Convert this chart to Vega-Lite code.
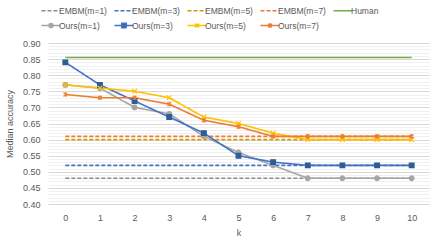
{
  "$schema": "https://vega.github.io/schema/vega-lite/v6.json",
  "width": 381,
  "height": 161,
  "autosize": {"type": "none"},
  "padding": {"left": 48, "top": 43, "right": 8, "bottom": 41},
  "background": "white",
  "config": {
    "view": {"stroke": null},
    "font": "Liberation Sans",
    "axis": {"labelFont": "Liberation Sans", "titleFont": "Liberation Sans", "labelColor": "#595959", "titleColor": "#595959", "labelFontSize": 9, "titleFontSize": 9, "titleFontWeight": "normal"},
    "legend": {"labelFont": "Liberation Sans", "labelColor": "#595959", "labelFontSize": 8.5}
  },
  "data": {
    "values": [
      {"k": 0, "acc": 0.48, "series": "EMBM(m=1)"},
      {"k": 10, "acc": 0.48, "series": "EMBM(m=1)"},
      {"k": 0, "acc": 0.52, "series": "EMBM(m=3)"},
      {"k": 10, "acc": 0.52, "series": "EMBM(m=3)"},
      {"k": 0, "acc": 0.60, "series": "EMBM(m=5)"},
      {"k": 10, "acc": 0.60, "series": "EMBM(m=5)"},
      {"k": 0, "acc": 0.61, "series": "EMBM(m=7)"},
      {"k": 10, "acc": 0.61, "series": "EMBM(m=7)"},
      {"k": 0, "acc": 0.855, "series": "Human"},
      {"k": 10, "acc": 0.855, "series": "Human"},
      {"k": 0, "acc": 0.77, "series": "Ours(m=1)"},
      {"k": 1, "acc": 0.76, "series": "Ours(m=1)"},
      {"k": 2, "acc": 0.70, "series": "Ours(m=1)"},
      {"k": 3, "acc": 0.68, "series": "Ours(m=1)"},
      {"k": 4, "acc": 0.61, "series": "Ours(m=1)"},
      {"k": 5, "acc": 0.56, "series": "Ours(m=1)"},
      {"k": 6, "acc": 0.52, "series": "Ours(m=1)"},
      {"k": 7, "acc": 0.48, "series": "Ours(m=1)"},
      {"k": 8, "acc": 0.48, "series": "Ours(m=1)"},
      {"k": 9, "acc": 0.48, "series": "Ours(m=1)"},
      {"k": 10, "acc": 0.48, "series": "Ours(m=1)"},
      {"k": 0, "acc": 0.84, "series": "Ours(m=3)"},
      {"k": 1, "acc": 0.77, "series": "Ours(m=3)"},
      {"k": 2, "acc": 0.72, "series": "Ours(m=3)"},
      {"k": 3, "acc": 0.67, "series": "Ours(m=3)"},
      {"k": 4, "acc": 0.62, "series": "Ours(m=3)"},
      {"k": 5, "acc": 0.55, "series": "Ours(m=3)"},
      {"k": 6, "acc": 0.53, "series": "Ours(m=3)"},
      {"k": 7, "acc": 0.52, "series": "Ours(m=3)"},
      {"k": 8, "acc": 0.52, "series": "Ours(m=3)"},
      {"k": 9, "acc": 0.52, "series": "Ours(m=3)"},
      {"k": 10, "acc": 0.52, "series": "Ours(m=3)"},
      {"k": 0, "acc": 0.77, "series": "Ours(m=5)"},
      {"k": 1, "acc": 0.76, "series": "Ours(m=5)"},
      {"k": 2, "acc": 0.75, "series": "Ours(m=5)"},
      {"k": 3, "acc": 0.73, "series": "Ours(m=5)"},
      {"k": 4, "acc": 0.67, "series": "Ours(m=5)"},
      {"k": 5, "acc": 0.65, "series": "Ours(m=5)"},
      {"k": 6, "acc": 0.62, "series": "Ours(m=5)"},
      {"k": 7, "acc": 0.60, "series": "Ours(m=5)"},
      {"k": 8, "acc": 0.60, "series": "Ours(m=5)"},
      {"k": 9, "acc": 0.60, "series": "Ours(m=5)"},
      {"k": 10, "acc": 0.60, "series": "Ours(m=5)"},
      {"k": 0, "acc": 0.74, "series": "Ours(m=7)"},
      {"k": 1, "acc": 0.73, "series": "Ours(m=7)"},
      {"k": 2, "acc": 0.73, "series": "Ours(m=7)"},
      {"k": 3, "acc": 0.71, "series": "Ours(m=7)"},
      {"k": 4, "acc": 0.66, "series": "Ours(m=7)"},
      {"k": 5, "acc": 0.64, "series": "Ours(m=7)"},
      {"k": 6, "acc": 0.61, "series": "Ours(m=7)"},
      {"k": 7, "acc": 0.61, "series": "Ours(m=7)"},
      {"k": 8, "acc": 0.61, "series": "Ours(m=7)"},
      {"k": 9, "acc": 0.61, "series": "Ours(m=7)"},
      {"k": 10, "acc": 0.61, "series": "Ours(m=7)"}
    ]
  },
  "encoding": {
    "x": {
      "field": "k", "type": "quantitative",
      "scale": {"domain": [-0.5, 10.5], "nice": false, "zero": false},
      "axis": {"title": "k", "values": [0,1,2,3,4,5,6,7,8,9,10], "format": "d", "grid": false, "ticks": false, "domain": false, "labelPadding": 9, "titlePadding": 6}
    },
    "y": {
      "field": "acc", "type": "quantitative",
      "scale": {"domain": [0.4, 0.9], "nice": false, "zero": false},
      "axis": {
        "title": "Median accuracy",
        "values": [0.40,0.41,0.42,0.43,0.44,0.45,0.46,0.47,0.48,0.49,0.50,0.51,0.52,0.53,0.54,0.55,0.56,0.57,0.58,0.59,0.60,0.61,0.62,0.63,0.64,0.65,0.66,0.67,0.68,0.69,0.70,0.71,0.72,0.73,0.74,0.75,0.76,0.77,0.78,0.79,0.80,0.81,0.82,0.83,0.84,0.85,0.86,0.87,0.88,0.89,0.90],
        "labelExpr": "round(datum.value*100) % 5 == 0 ? format(datum.value, '.2f') : ''",
        "labelOverlap": false,
        "labelBound": false,
        "ticks": false,
        "domain": false,
        "labelPadding": 8,
        "titlePadding": 8,
        "gridColor": {"condition": {"test": "round(datum.value*100) % 5 == 0", "value": "#d9d9d9"}, "value": "#f0f0f0"},
        "gridWidth": 1
      }
    }
  },
  "layer": [
    {
      "mark": {"type": "line", "strokeWidth": 1.6},
      "encoding": {
        "color": {
          "field": "series", "type": "nominal",
          "scale": {
            "domain": ["EMBM(m=1)","EMBM(m=3)","EMBM(m=5)","EMBM(m=7)","Human","Ours(m=1)","Ours(m=3)","Ours(m=5)","Ours(m=7)"],
            "range": ["#8c8c8c","#4472C4","#CC9E00","#E8793A","#70AD47","#A5A5A5","#4472C4","#FFC000","#ED7D31"]
          },
          "legend": {
            "title": null,
            "orient": "none",
            "direction": "horizontal",
            "legendX": -3,
            "legendY": -39,
            "columns": 5,
            "gridAlign": "all",
            "columnPadding": 4,
            "rowPadding": 3.5,
            "symbolSize": 100,
            "symbolStrokeWidth": 1.6,
            "labelOffset": 2,
            "encode": {
              "symbols": {
                "update": {
                  "shape": {"signal": "datum.value == 'Ours(m=1)' ? 'M-1.9,0H1.9M0.4,0A0.4,0.4 0 1,1 -0.4,0A0.4,0.4 0 1,1 0.4,0Z' : datum.value == 'Ours(m=3)' ? 'M-1.9,0H1.9M-0.45,-0.45H0.45V0.45H-0.45Z' : datum.value == 'Ours(m=5)' ? 'M-1.9,0H1.9M-0.4,-0.4L0.4,0.4M-0.4,0.4L0.4,-0.4' : datum.value == 'Ours(m=7)' ? 'M-1.9,0H1.9M-0.35,-0.35L0.35,0.35M-0.35,0.35L0.35,-0.35M0,-0.45V0.45' : 'M-1.9,0H1.9'"},
                  "fill": {"signal": "datum.value == 'Ours(m=3)' ? '#2E5D96' : scale('color', datum.value)"}
                }
              }
            }
          }
        },
        "strokeDash": {
          "field": "series", "type": "nominal",
          "scale": {
            "domain": ["EMBM(m=1)","EMBM(m=3)","EMBM(m=5)","EMBM(m=7)","Human","Ours(m=1)","Ours(m=3)","Ours(m=5)","Ours(m=7)"],
            "range": [[4,2],[4,2],[4,2],[4,2],[1,0],[1,0],[1,0],[1,0],[1,0]]
          },
          "legend": {
            "title": null,
            "orient": "none",
            "direction": "horizontal",
            "legendX": -3,
            "legendY": -39,
            "columns": 5,
            "gridAlign": "all",
            "columnPadding": 4,
            "rowPadding": 3.5,
            "symbolSize": 100,
            "symbolStrokeWidth": 1.6,
            "labelOffset": 2
          }
        }
      }
    },
    {
      "transform": [{"filter": {"field": "series", "oneOf": ["Ours(m=1)","Ours(m=3)","Ours(m=5)","Ours(m=7)"]}}],
      "mark": {"type": "point", "filled": true, "opacity": 1, "strokeWidth": 1.2},
      "encoding": {
        "shape": {
          "field": "series", "type": "nominal",
          "scale": {
            "domain": ["Ours(m=1)","Ours(m=3)","Ours(m=5)","Ours(m=7)"],
            "range": ["circle","square","M-1,-1L1,1M-1,1L1,-1","M-0.8,-0.8L0.8,0.8M-0.8,0.8L0.8,-0.8M0,-1V1"]
          },
          "legend": null
        },
        "fill": {
          "field": "series", "type": "nominal",
          "scale": {"domain": ["Ours(m=1)","Ours(m=3)","Ours(m=5)","Ours(m=7)"], "range": ["#A5A5A5","#2E5D96","#FFC000","#ED7D31"]},
          "legend": null
        },
        "stroke": {
          "field": "series", "type": "nominal",
          "scale": {"domain": ["Ours(m=1)","Ours(m=3)","Ours(m=5)","Ours(m=7)"], "range": ["#A5A5A5","#2E5D96","#FFC000","#ED7D31"]},
          "legend": null
        },
        "size": {"value": 22}
      }
    }
  ]
}
